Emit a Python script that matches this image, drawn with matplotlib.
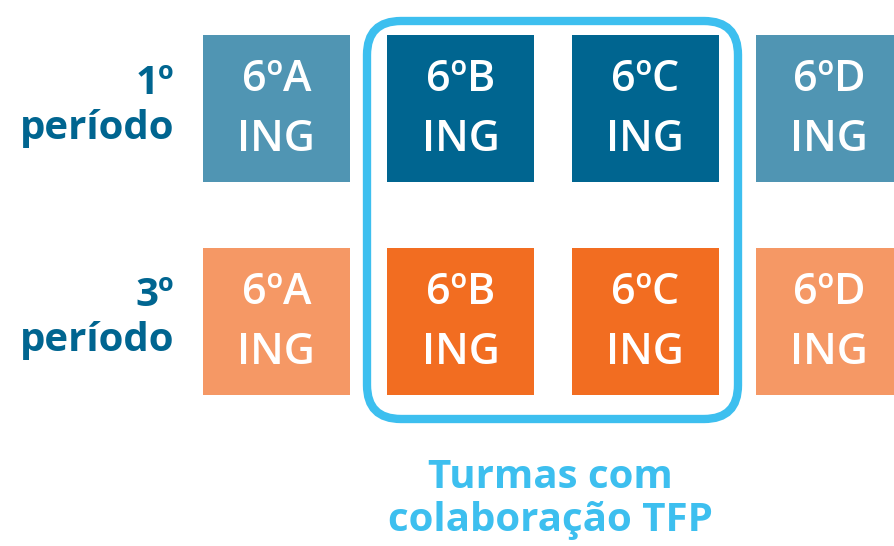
import matplotlib.pyplot as plt
from matplotlib.patches import Rectangle, FancyBboxPatch

turmas = ['6ºA', '6ºB', '6ºC', '6ºD']
curso = 'ING'
periodos = ['1º\nperíodo', '3º\nperíodo']
tfp = [False, True, True, False]  # turmas com colaboração TFP
cores_claras = ['#5095B3', '#F59865']
cores_escuras = ['#006590', '#F26D21']
caption = 'Turmas com\ncolaboração TFP'

fig = plt.figure(figsize=(8.95, 5.46), dpi=100)
ax = fig.add_axes([0, 0, 1, 1])
ax.set_xlim(0, 895)
ax.set_ylim(546, 0)
ax.axis('off')

fam = ['Open Sans', 'DejaVu Sans']
x0, dx, size = 203, 184.3, 147
y0, dy = 35, 213

for r, per in enumerate(periodos):
    top = y0 + r * dy
    ax.text(174, top + size / 2 - 3, per, ha='right', va='center', fontsize=29,
            fontweight='bold', color='#006590', family=fam, linespacing=1.2)
    for c, t in enumerate(turmas):
        left = x0 + c * dx
        cor = cores_escuras[r] if tfp[c] else cores_claras[r]
        ax.add_patch(Rectangle((left, top), size, size, color=cor, lw=0))
        ax.text(left + size / 2, top + size / 2 + 1, t + '\n' + curso, ha='center', va='center',
                fontsize=31, fontweight='semibold', color='white', family=fam,
                linespacing=1.5)

# moldura arredondada
ax.add_patch(FancyBboxPatch((367, 21), 371, 398, boxstyle='round,pad=0,rounding_size=34',
                            fill=False, ec='#3DBFEF', lw=6))
ax.text(550, 499, caption, ha='center', va='center', fontsize=29, fontweight='bold',
        color='#3DBFEF', family=fam, linespacing=1.12)

fig.savefig('out.png', dpi=100)
